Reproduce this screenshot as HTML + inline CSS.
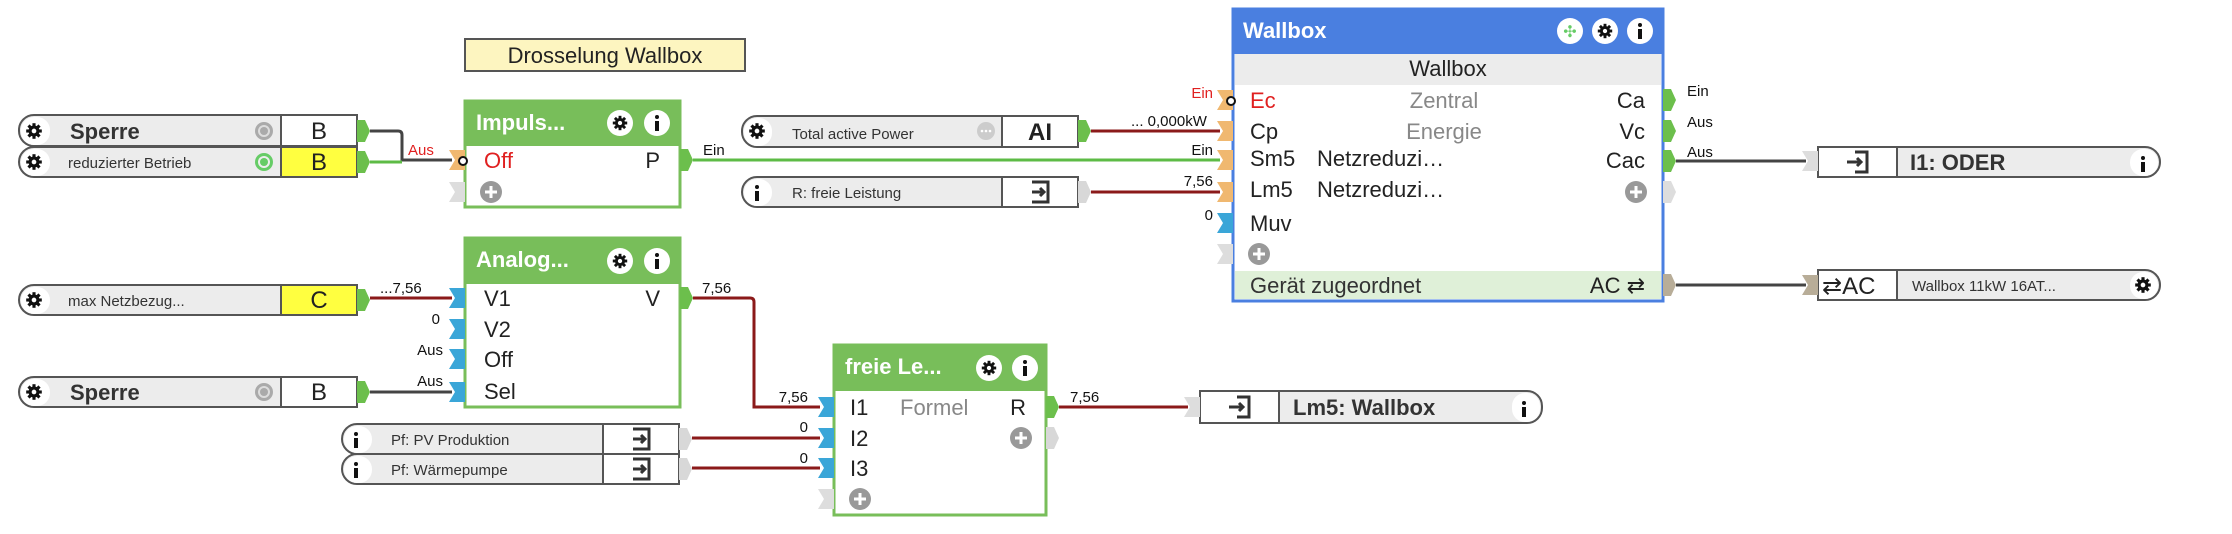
<!DOCTYPE html>
<html><head><meta charset="utf-8"><style>
html,body{margin:0;padding:0;background:#fff;}
svg{display:block;font-family:"Liberation Sans",Arial,sans-serif;}
</style></head><body>
<svg width="2232" height="534" viewBox="0 0 2232 534" xmlns="http://www.w3.org/2000/svg">
<defs>
<g id="gear0"><circle r="7" fill="#111"/>
<g fill="#111"><rect x="-2" y="-10" width="4" height="20"/><rect x="-10" y="-2" width="20" height="4"/><rect x="-2" y="-10" width="4" height="20" transform="rotate(45)"/><rect x="-2" y="-10" width="4" height="20" transform="rotate(-45)"/></g><circle r="3" fill="#fff"/></g>
<g id="gear"><use href="#gear0" transform="scale(0.78)"/></g>
<g id="wgear"><circle r="13" fill="#fff"/><use href="#gear0" transform="scale(0.72)"/></g>
<g id="winfo"><circle r="13" fill="#fff"/><circle cy="-6" r="2" fill="#111"/><rect x="-2" y="-2" width="4" height="10" fill="#111"/></g>
<g id="info"><circle cy="-6" r="2" fill="#111"/><rect x="-2" y="-2" width="4" height="10" fill="#111"/></g>
<g id="plus"><circle r="11" fill="#999"/><rect x="-6" y="-1.5" width="12" height="3" fill="#fff"/><rect x="-1.5" y="-6" width="3" height="12" fill="#fff"/></g>
<path id="pin" d="M-16,-10 L0,-10 L0,10 L-16,10 L-10,0 Z"/>
<path id="pout" d="M0,-11 L8,-11 L13,0 L8,11 L0,11 Z"/>
<g id="exp"><path d="M-8,-10 H8 V10 H-8 M-8,0 H4 M0,-4 L4,0 L0,4" fill="none" stroke="#333" stroke-width="3"/></g>
<g id="imp"><path d="M-4,-10 H8 V10 H-4 M-12,0 H2 M-2,-4 L2,0 L-2,4" fill="none" stroke="#333" stroke-width="3"/></g>
</defs>

<g fill="none" stroke-width="3">
<path d="M370,131 H398 Q402,131 402,135 V160 H452" stroke="#444"/>
<path d="M370,162 H402" stroke="#5dbb46"/>
<path d="M693,160 H1220" stroke="#5dbb46"/>
<path d="M1091,131 H1220" stroke="#8b1a1a"/>
<path d="M1091,192 H1220" stroke="#8b1a1a"/>
<path d="M370,298 H452" stroke="#8b1a1a"/>
<path d="M370,392 H452" stroke="#444"/>
<path d="M693,298 H750 Q754,298 754,302 V407 H820" stroke="#8b1a1a"/>
<path d="M692,438 H820" stroke="#8b1a1a"/>
<path d="M692,468 H820" stroke="#8b1a1a"/>
<path d="M1059,407 H1188" stroke="#8b1a1a"/>
<path d="M1676,161 H1806" stroke="#444"/>
<path d="M1676,285 H1806" stroke="#444"/>
</g>

<g font-size="15" fill="#111">
<text x="408" y="155" fill="#e02020">Aus</text>
<text x="703" y="155">Ein</text>
<text x="1131" y="126">... 0,000kW</text>
<text x="1213" y="98" text-anchor="end" fill="#e02020">Ein</text>
<text x="1213" y="155" text-anchor="end">Ein</text>
<text x="1213" y="186" text-anchor="end">7,56</text>
<text x="1213" y="220" text-anchor="end">0</text>
<text x="380" y="293">...7,56</text>
<text x="440" y="324" text-anchor="end">0</text>
<text x="443" y="355" text-anchor="end">Aus</text>
<text x="443" y="386" text-anchor="end">Aus</text>
<text x="702" y="293">7,56</text>
<text x="808" y="402" text-anchor="end">7,56</text>
<text x="808" y="432" text-anchor="end">0</text>
<text x="808" y="463" text-anchor="end">0</text>
<text x="1070" y="402">7,56</text>
<text x="1687" y="96">Ein</text>
<text x="1687" y="127">Aus</text>
<text x="1687" y="157">Aus</text>
</g>

<rect x="465" y="39" width="280" height="32" fill="#fdf5c0" stroke="#555" stroke-width="2"/>
<text x="605" y="63" font-size="22" text-anchor="middle" fill="#222">Drosselung Wallbox</text>

<g stroke="#555" stroke-width="2">
<rect x="19" y="115" width="338" height="31" rx="15" fill="#ececec"/>
<rect x="281" y="115" width="76" height="31" fill="#fff"/>
<rect x="19" y="147" width="338" height="30" rx="15" fill="#ececec"/>
<rect x="281" y="147" width="76" height="30" fill="#ffff40"/>
<rect x="19" y="285" width="338" height="30" rx="15" fill="#ececec"/>
<rect x="281" y="285" width="76" height="30" fill="#ffff40"/>
<rect x="19" y="377" width="338" height="30" rx="15" fill="#ececec"/>
<rect x="281" y="377" width="76" height="30" fill="#fff"/>
<rect x="342" y="424" width="337" height="30" rx="15" fill="#ececec"/>
<rect x="603" y="424" width="76" height="30" fill="#fff"/>
<rect x="342" y="454" width="337" height="30" rx="15" fill="#ececec"/>
<rect x="603" y="454" width="76" height="30" fill="#fff"/>
<rect x="742" y="116" width="336" height="31" rx="15" fill="#ececec"/>
<rect x="1002" y="116" width="76" height="31" fill="#fff"/>
<rect x="742" y="177" width="336" height="30" rx="15" fill="#ececec"/>
<rect x="1002" y="177" width="76" height="30" fill="#fff"/>
</g>
<g fill="#fff">
<rect x="21" y="117" width="29" height="28" rx="13"/><rect x="21" y="149" width="29" height="27" rx="13"/>
<rect x="21" y="287" width="29" height="27" rx="13"/><rect x="21" y="379" width="29" height="27" rx="13"/>
<rect x="344" y="426" width="28" height="27" rx="13"/><rect x="344" y="456" width="28" height="27" rx="13"/>
<rect x="744" y="118" width="28" height="28" rx="13"/><rect x="744" y="179" width="28" height="27" rx="13"/>
</g>
<use href="#gear" x="34" y="131"/><use href="#gear" x="34" y="162"/><use href="#gear" x="34" y="300"/><use href="#gear" x="34" y="392"/><use href="#gear" x="757" y="131"/>
<use href="#info" x="356" y="440"/><use href="#info" x="356" y="470"/><use href="#info" x="757" y="193"/>
<g fill="#333">
<text x="70" y="139" font-size="22" font-weight="bold">Sperre</text>
<text x="68" y="168" font-size="15">reduzierter Betrieb</text>
<text x="68" y="306" font-size="15">max Netzbezug...</text>
<text x="70" y="400" font-size="22" font-weight="bold">Sperre</text>
<text x="391" y="445" font-size="15">Pf: PV Produktion</text>
<text x="391" y="475" font-size="15">Pf: Wärmepumpe</text>
<text x="792" y="139" font-size="15">Total active Power</text>
<text x="792" y="198" font-size="15">R: freie Leistung</text>
</g>
<g font-size="24" text-anchor="middle" fill="#222">
<text x="319" y="139">B</text><text x="319" y="170">B</text><text x="319" y="308">C</text><text x="319" y="400">B</text>
<text x="1040" y="140" font-weight="bold">AI</text>
</g>
<circle cx="264" cy="131" r="9" fill="#aaa"/><circle cx="264" cy="131" r="6" fill="#ddd"/><circle cx="264" cy="131" r="4" fill="#aaa"/>
<circle cx="264" cy="392" r="9" fill="#aaa"/><circle cx="264" cy="392" r="6" fill="#ddd"/><circle cx="264" cy="392" r="4" fill="#aaa"/>
<circle cx="264" cy="162" r="9" fill="#6c6"/><circle cx="264" cy="162" r="6" fill="#eee"/><circle cx="264" cy="162" r="4" fill="#6c6"/>
<circle cx="986" cy="131" r="9" fill="#ccc"/><g fill="#fff"><circle cx="982" cy="131" r="1.3"/><circle cx="986" cy="131" r="1.3"/><circle cx="990" cy="131" r="1.3"/></g>
<use href="#exp" x="641" y="439"/><use href="#exp" x="641" y="469"/><use href="#exp" x="1040" y="192"/>
<g fill="#6cbf4c"><use href="#pout" x="357" y="131"/><use href="#pout" x="357" y="162"/><use href="#pout" x="357" y="300"/><use href="#pout" x="357" y="392"/><use href="#pout" x="1078" y="131"/></g>
<g fill="#d8d8d8"><use href="#pout" x="679" y="439"/><use href="#pout" x="679" y="469"/><use href="#pout" x="1078" y="192"/></g>

<rect x="465" y="101" width="215" height="106" fill="#fff" stroke="#78be5a" stroke-width="3"/>
<rect x="465" y="101" width="215" height="45" fill="#78be5a"/>
<text x="476" y="130" font-size="22" font-weight="bold" fill="#fff">Impuls...</text>
<use href="#wgear" x="620" y="123"/><use href="#winfo" x="657" y="123"/>
<text x="484" y="168" font-size="22" fill="#e02020">Off</text>
<text x="660" y="168" font-size="22" text-anchor="end" fill="#222">P</text>
<use href="#plus" x="491" y="192"/>
<use href="#pin" x="465" y="160" fill="#f0b870"/><circle cx="463" cy="161" r="4" fill="#fff" stroke="#111" stroke-width="2"/>
<use href="#pin" x="465" y="192" fill="#ddd"/>
<use href="#pout" x="680" y="160" fill="#6cbf4c"/>

<rect x="465" y="238" width="215" height="169" fill="#fff" stroke="#78be5a" stroke-width="3"/>
<rect x="465" y="238" width="215" height="46" fill="#78be5a"/>
<text x="476" y="267" font-size="22" font-weight="bold" fill="#fff">Analog...</text>
<use href="#wgear" x="620" y="261"/><use href="#winfo" x="657" y="261"/>
<g font-size="22" fill="#222"><text x="484" y="306">V1</text><text x="484" y="337">V2</text><text x="484" y="367">Off</text><text x="484" y="399">Sel</text>
<text x="660" y="306" text-anchor="end">V</text></g>
<g fill="#3aa6d8"><use href="#pin" x="465" y="298"/><use href="#pin" x="465" y="329"/><use href="#pin" x="465" y="359"/><use href="#pin" x="465" y="392"/></g>
<use href="#pout" x="680" y="298" fill="#6cbf4c"/>

<rect x="834" y="345" width="212" height="170" fill="#fff" stroke="#78be5a" stroke-width="3"/>
<rect x="834" y="345" width="212" height="46" fill="#78be5a"/>
<text x="845" y="374" font-size="22" font-weight="bold" fill="#fff">freie Le...</text>
<use href="#wgear" x="989" y="368"/><use href="#winfo" x="1025" y="368"/>
<g font-size="22" fill="#222"><text x="850" y="415">I1</text><text x="850" y="446">I2</text><text x="850" y="476">I3</text>
<text x="900" y="415" fill="#888">Formel</text><text x="1026" y="415" text-anchor="end">R</text></g>
<use href="#plus" x="1021" y="438"/><use href="#plus" x="860" y="499"/>
<g fill="#3aa6d8"><use href="#pin" x="834" y="407"/><use href="#pin" x="834" y="438"/><use href="#pin" x="834" y="468"/></g>
<use href="#pin" x="834" y="499" fill="#ddd"/>
<use href="#pout" x="1046" y="407" fill="#6cbf4c"/><use href="#pout" x="1046" y="438" fill="#d8d8d8"/>

<rect x="1233" y="9" width="430" height="292" fill="#fff" stroke="#4a7fe0" stroke-width="3"/>
<rect x="1233" y="9" width="430" height="45" fill="#4a7fe0"/>
<rect x="1235" y="54" width="426" height="31" fill="#ececec"/>
<rect x="1235" y="271" width="426" height="28" fill="#dff0d8"/>
<text x="1243" y="38" font-size="22" font-weight="bold" fill="#fff">Wallbox</text>
<circle cx="1570" cy="31" r="13" fill="#fff"/><text x="1570" y="37" font-size="16" text-anchor="middle" fill="#6c6">✣</text>
<use href="#wgear" x="1605" y="31"/><use href="#winfo" x="1640" y="31"/>
<g font-size="22" fill="#222">
<text x="1448" y="76" text-anchor="middle">Wallbox</text>
<text x="1250" y="108" fill="#e02020">Ec</text><text x="1250" y="139">Cp</text><text x="1250" y="166">Sm5</text><text x="1250" y="197">Lm5</text><text x="1250" y="231">Muv</text>
<text x="1444" y="108" text-anchor="middle" fill="#888">Zentral</text><text x="1444" y="139" text-anchor="middle" fill="#888">Energie</text>
<text x="1317" y="166">Netzreduzi…</text><text x="1317" y="197">Netzreduzi…</text>
<text x="1645" y="108" text-anchor="end">Ca</text><text x="1645" y="139" text-anchor="end">Vc</text><text x="1645" y="168" text-anchor="end">Cac</text>
<text x="1250" y="293" fill="#333">Gerät zugeordnet</text><text x="1645" y="293" text-anchor="end">AC ⇄</text>
</g>
<use href="#plus" x="1259" y="254"/><use href="#plus" x="1636" y="192"/>
<g fill="#f0b870"><use href="#pin" x="1233" y="100"/><use href="#pin" x="1233" y="131"/><use href="#pin" x="1233" y="160"/><use href="#pin" x="1233" y="192"/></g>
<circle cx="1231" cy="101" r="4" fill="#fff" stroke="#111" stroke-width="2"/>
<use href="#pin" x="1233" y="223" fill="#3aa6d8"/><use href="#pin" x="1233" y="254" fill="#ddd"/>
<g fill="#6cbf4c"><use href="#pout" x="1663" y="100"/><use href="#pout" x="1663" y="131"/><use href="#pout" x="1663" y="161"/></g>
<use href="#pout" x="1663" y="192" fill="#ddd"/><use href="#pout" x="1663" y="285" fill="#b8ad98"/>

<g stroke="#555" stroke-width="2">
<rect x="1818" y="147" width="342" height="30" rx="15" fill="#ececec"/>
<rect x="1818" y="147" width="79" height="30" fill="#fff"/>
<rect x="1818" y="270" width="342" height="30" rx="15" fill="#ececec"/>
<rect x="1818" y="270" width="79" height="30" fill="#fff"/>
<rect x="1200" y="391" width="342" height="32" rx="15" fill="#ececec"/>
<rect x="1200" y="391" width="79" height="32" fill="#fff"/>
</g>
<rect x="2130" y="149" width="28" height="27" rx="13" fill="#fff"/><rect x="2130" y="272" width="28" height="27" rx="13" fill="#fff"/><rect x="1512" y="393" width="28" height="29" rx="13" fill="#fff"/>
<use href="#info" x="2143" y="164"/><use href="#gear" x="2143" y="285"/><use href="#info" x="1524" y="409"/>
<use href="#imp" x="1859" y="162"/><use href="#imp" x="1241" y="407"/>
<text x="1910" y="170" font-size="22" font-weight="bold" fill="#333">I1: ODER</text>
<text x="1293" y="415" font-size="22" font-weight="bold" fill="#333">Lm5: Wallbox</text>
<text x="1822" y="294" font-size="24" fill="#222">⇄AC</text>
<text x="1912" y="291" font-size="15" fill="#333">Wallbox 11kW 16AT...</text>
<g fill="#ddd"><use href="#pin" x="1818" y="161"/><use href="#pin" x="1200" y="407"/></g>
<use href="#pin" x="1818" y="285" fill="#b8ad98"/>
</svg>
</body></html>
